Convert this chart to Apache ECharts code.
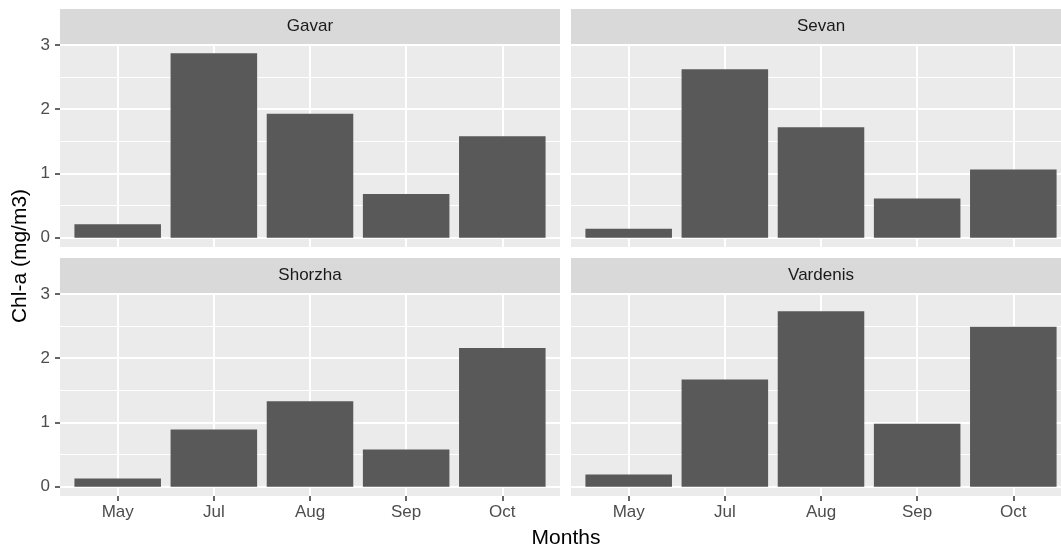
<!DOCTYPE html>
<html>
<head>
<meta charset="utf-8">
<script src="https://cdn.jsdelivr.net/npm/echarts@6/dist/echarts.min.js"></script>
<style>
  html, body { margin: 0; padding: 0; background: #ffffff; }
  #chart { width: 1061px; height: 550px; }
</style>
</head>
<body>
<div id="chart"></div>
<script>
// Monthly chlorophyll-a per site
const months = ['May', 'Jul', 'Aug', 'Sep', 'Oct'];
const sites = ['Gavar', 'Sevan', 'Shorzha', 'Vardenis'];
const gavar    = [0.21, 2.87, 1.93, 0.68, 1.58];
const sevan    = [0.14, 2.62, 1.72, 0.61, 1.06];
const shorzha  = [0.13, 0.89, 1.33, 0.58, 2.16];
const vardenis = [0.19, 1.67, 2.73, 0.98, 2.49];
const yTicks = [0, 1, 2, 3];
const yMinorTicks = [0.5, 1.5, 2.5];
const xTitle = 'Months';
const yTitle = 'Chl-a (mg/m3)';

const siteValues = [gavar, sevan, shorzha, vardenis];

// Facet layout (2 x 2); the right column runs past the canvas edge
const FONT = '"Liberation Sans", Arial, sans-serif';
const CANVAS_W = 1061;
const panelW = 500, panelH = 203, stripH = 35;
const panelLeft = [60, 571];
const panelTop = [44, 293];

// Shared scales: 5% padding on the value axis, 0.6 of a band on the month axis
const dataMax = Math.max(...siteValues.flat());
const yMin = -0.05 * dataMax, yMax = 1.05 * dataMax;
const monthIdx = months.map((_, i) => i);
const xMin = -0.6, xMax = months.length - 1 + 0.6;

const grids = [], xAxes = [], yAxes = [], series = [], graphics = [];

sites.forEach((site, p) => {
  const row = Math.floor(p / 2), col = p % 2;
  grids.push({
    left: panelLeft[col],
    right: CANVAS_W - panelLeft[col] - panelW,
    top: panelTop[row], height: panelH,
    outerBoundsMode: 'none', containLabel: false,
    show: true, backgroundColor: '#EBEBEB', borderWidth: 0
  });
  xAxes.push({
    gridIndex: p, type: 'value', min: xMin, max: xMax, position: 'bottom',
    axisLine: { show: false, onZero: false },
    axisTick: { show: row === 1, customValues: monthIdx, length: 5,
                lineStyle: { color: '#333333', width: 1.5 } },
    axisLabel: { show: row === 1, customValues: monthIdx, margin: 8,
                 formatter: v => months[Math.round(v)],
                 color: '#4D4D4D', fontSize: 17, fontFamily: FONT },
    splitLine: { show: true, lineStyle: { color: '#FFFFFF', width: 2 } }
  });
  // major value axis
  yAxes.push({
    gridIndex: p, type: 'value', min: yMin, max: yMax, position: 'left',
    axisLine: { show: false, onZero: false },
    axisTick: { show: col === 0, customValues: yTicks, length: 5,
                lineStyle: { color: '#333333', width: 1.5 } },
    axisLabel: { show: col === 0, customValues: yTicks, margin: 10,
                 color: '#4D4D4D', fontSize: 17, fontFamily: FONT },
    splitLine: { show: true, lineStyle: { color: '#FFFFFF', width: 2 } }
  });
  // minor grid lines
  yAxes.push({
    gridIndex: p, type: 'value', min: yMin, max: yMax, position: 'right',
    axisLine: { show: false, onZero: false },
    axisTick: { show: false, customValues: yMinorTicks },
    axisLabel: { show: false, customValues: yMinorTicks },
    splitLine: { show: true, lineStyle: { color: '#FFFFFF', width: 1 } }
  });
  series.push({
    type: 'bar', name: site, xAxisIndex: p, yAxisIndex: 2 * p,
    data: siteValues[p].map((v, i) => [i, v]),
    barWidth: '90%',
    itemStyle: { color: '#595959' },
    silent: true
  });
  // facet strip
  graphics.push({
    type: 'rect', z: 10,
    shape: { x: panelLeft[col], y: panelTop[row] - stripH, width: panelW, height: stripH },
    style: { fill: '#D9D9D9' }
  });
  graphics.push({
    type: 'text', z: 11,
    x: panelLeft[col] + panelW / 2, y: panelTop[row] - stripH / 2,
    style: { text: site, fill: '#1A1A1A', fontSize: 17, fontFamily: FONT,
             align: 'center', verticalAlign: 'middle' }
  });
});

// axis titles
graphics.push({
  type: 'text', x: 566, y: 538,
  style: { text: xTitle, fill: '#000000', fontSize: 21, fontFamily: FONT,
           align: 'center', verticalAlign: 'middle' }
});
graphics.push({
  type: 'text', x: 20, y: 256, rotation: Math.PI / 2,
  style: { text: yTitle, fill: '#000000', fontSize: 21, fontFamily: FONT,
           align: 'center', verticalAlign: 'middle' }
});

const chart = echarts.init(document.getElementById('chart'), null, { renderer: 'canvas' });
chart.setOption({
  animation: false,
  backgroundColor: '#FFFFFF',
  grid: grids,
  xAxis: xAxes,
  yAxis: yAxes,
  series: series,
  graphic: { elements: graphics }
});
</script>
</body>
</html>
